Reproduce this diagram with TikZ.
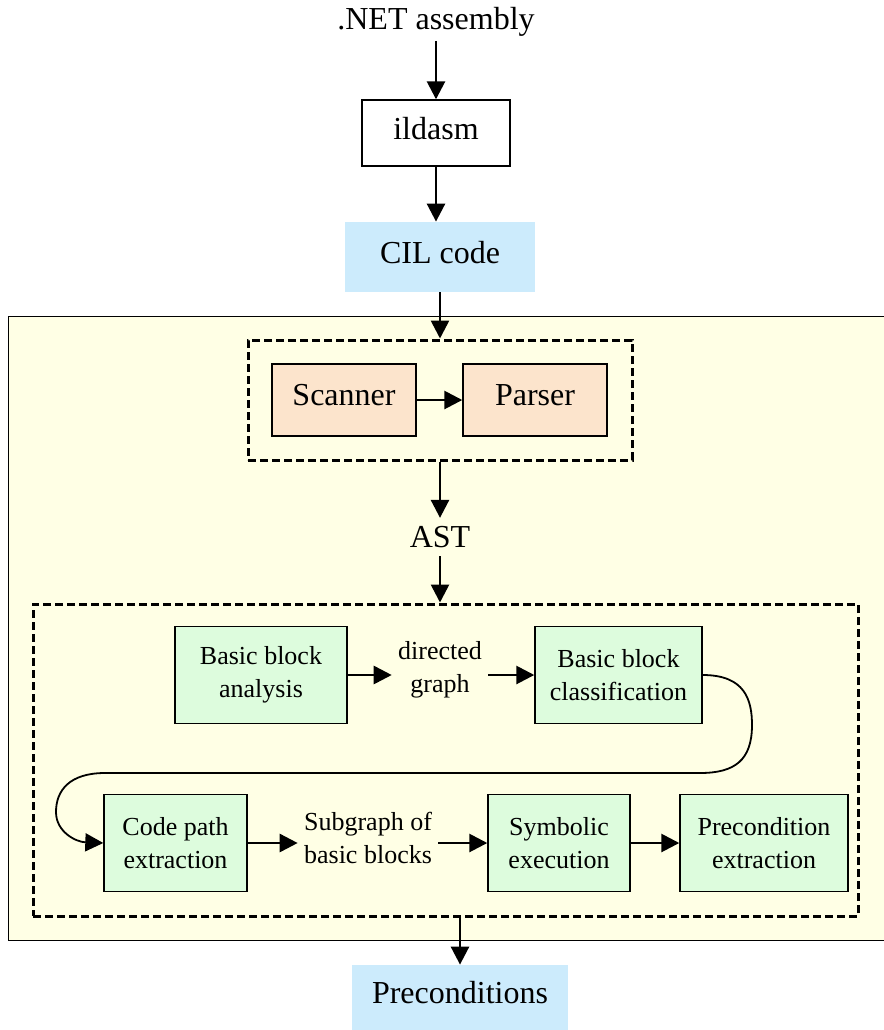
\documentclass[tikz,border=0pt]{standalone}
\usepackage{fontspec}
\setmainfont{Liberation Serif}
\usepackage{xcolor}
\usepackage{tikz}
\usetikzlibrary{arrows.meta, positioning}
\definecolor{cilblue}{RGB}{204,235,252}
\definecolor{lexpeach}{RGB}{252,228,204}
\definecolor{blockgreen}{RGB}{221,252,221}
\definecolor{toolyellow}{RGB}{255,255,229}

\begin{document}
\begin{tikzpicture}[x=0.5pt, y=-0.5pt,
    arr/.style={-{Triangle[length=9pt,width=9pt]}, line width=1.35pt},
    big/.style={font=\fontsize{16}{19}\selectfont},
    databox/.style={big, fill=cilblue, inner sep=0pt, text depth=5pt},
    lexbox/.style={big, draw, line width=0.7pt, fill=lexpeach, minimum width=72pt, minimum height=36pt, inner sep=0pt, text depth=5pt},
    blockbox/.style={draw, line width=0.7pt, fill=blockgreen, minimum height=48.5pt, inner sep=0pt, align=center, font=\fontsize{13}{16.5}\selectfont},
    midtext/.style={align=center, font=\fontsize{13}{16.5}\selectfont, inner sep=3pt},
    dashbox/.style={draw, line width=1.5pt, dash pattern=on 4pt off 2pt, inner sep=0pt}]
        \useasboundingbox (0,0) rectangle (884,1030);
        \draw[line width=0.5pt, fill=toolyellow] (8,316) rectangle (890,940);

        \node[big, inner sep=2pt] (net) at (436,22) {.NET assembly};
        \node[big, draw, line width=0.7pt, fill=white, minimum width=74pt, minimum height=33pt, inner sep=0pt, text depth=5pt] (ildasm) at (436,133) {ildasm};
        \node[databox, minimum width=95pt, minimum height=35pt] (cil) at (440,257) {CIL code};

        \node[dashbox, minimum width=192pt, minimum height=60pt] (frontend) at (440,400) {};
        \node[lexbox] (scanner) at (344,400) {Scanner};
        \node[lexbox] (parser) at (535,400) {Parser};
        \node[big, inner sep=4pt] (ast) at (440,537) {AST};

        \node[dashbox, minimum width=412.5pt, minimum height=156pt] (analysis) at (445.5,760) {};
        \node[blockbox, minimum width=86pt] (bba) at (261,675) {Basic block\\analysis};
        \node[midtext] (dgraph) at (440,670) {directed\\graph};
        \node[blockbox, minimum width=83.5pt] (bbc) at (618.5,675) {Basic block\\classification};
        \node[blockbox, minimum width=71.5pt] (cpe) at (175.5,843) {Code path\\extraction};
        \node[midtext] (subg) at (368,838) {Subgraph of\\basic blocks};
        \node[blockbox, minimum width=71pt] (symb) at (559,843) {Symbolic\\execution};
        \node[blockbox, minimum width=84pt] (prex) at (764,843) {Precondition\\extraction};

        \node[databox, minimum width=108pt, minimum height=32.5pt] (pre) at (460,997.5) {Preconditions};

        \draw[arr] (net) -- (ildasm);
        \draw[arr] (ildasm) -- (ildasm |- cil.north);
        \draw[arr] (cil) -- (frontend);
        \draw[arr] (scanner) -- (parser);
        \draw[arr] (frontend) -- (ast);
        \draw[arr] (ast) -- (ast |- analysis.north);
        \draw[arr] (bba) -- (bba -| dgraph.west);
        \draw[arr] (dgraph.east |- bbc) -- (bbc);
        \draw[line width=0.9pt, -{Triangle[length=9pt,width=9pt]}] (bbc.east) .. controls (745,675) and (752,700) .. (752,725)
            .. controls (752,760) and (735,773) .. (700,773) -- (105,773)
            .. controls (70,773) and (56,790) .. (56,812)
            .. controls (56,832) and (76,842) .. (cpe.west);
        \draw[arr] (cpe) -- (cpe -| subg.west);
        \draw[arr] (subg.east |- symb) -- (symb);
        \draw[arr] (symb) -- (prex);
        \draw[arr] (analysis.south -| pre.north) -- (pre.north);
    \end{tikzpicture}
\end{document}
